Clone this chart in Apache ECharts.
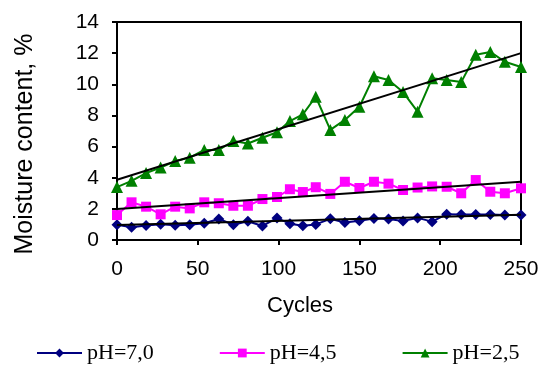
<!DOCTYPE html>
<html>
<head>
<meta charset="utf-8">
<script src="https://cdn.jsdelivr.net/npm/echarts@6/dist/echarts.min.js"></script>
<style>
html,body{margin:0;padding:0;background:#fff;}
#chart{width:560px;height:365px;}
</style>
</head>
<body>
<div id="chart"></div>
<script>
var cycles = [0, 9, 18, 27, 36, 45, 54, 63, 72, 81, 90, 99, 107, 115, 123, 132, 141, 150, 159, 168, 177, 186, 195, 204, 213, 222, 231, 240, 250];
var ph70 = [0.98, 0.82, 0.93, 1.01, 0.95, 0.98, 1.08, 1.35, 0.98, 1.2, 0.9, 1.41, 1.05, 0.92, 1.0, 1.36, 1.12, 1.23, 1.38, 1.35, 1.22, 1.42, 1.18, 1.66, 1.64, 1.64, 1.64, 1.6, 1.6];
var ph45 = [1.6, 2.42, 2.14, 1.65, 2.14, 2.03, 2.42, 2.36, 2.2, 2.2, 2.63, 2.76, 3.26, 3.08, 3.39, 2.96, 3.74, 3.34, 3.74, 3.62, 3.21, 3.37, 3.44, 3.42, 3.0, 3.85, 3.1, 3.0, 3.32];
var ph25 = [3.4, 3.8, 4.3, 4.65, 5.07, 5.29, 5.78, 5.78, 6.36, 6.2, 6.57, 6.92, 7.64, 8.07, 9.2, 7.07, 7.71, 8.56, 10.52, 10.28, 9.5, 8.24, 10.38, 10.28, 10.14, 11.9, 12.08, 11.45, 11.11];
var trendX = [0, 250];
var trend70 = [0.96, 1.62];
var trend45 = [1.99, 3.74];
var trend25 = [3.87, 12.0];
var seriesNames = ['pH=7,0', 'pH=4,5', 'pH=2,5'];
var xTicks = [0, 50, 100, 150, 200, 250];
var yTicks = [0, 2, 4, 6, 8, 10, 12, 14];

function pairs(xs, ys) { return xs.map(function (x, i) { return [x, ys[i]]; }); }

var chart = echarts.init(document.getElementById('chart'), null, {renderer: 'canvas'});
var axisFont = {fontFamily: 'Liberation Sans', fontSize: 21, color: '#000'};
chart.setOption({
  animation: false,
  backgroundColor: '#fff',
  grid: {left: 117, right: 39, top: 22, bottom: 125, show: true, borderColor: '#000', borderWidth: 2, backgroundColor: 'transparent'},
  xAxis: {
    type: 'value', min: xTicks[0], max: xTicks[xTicks.length - 1], interval: 50,
    name: 'Cycles', nameLocation: 'middle', nameGap: 55,
    nameTextStyle: {fontFamily: 'Liberation Sans', fontSize: 22, color: '#000', padding: [0, 38, 0, 0]},
    axisLine: {show: true, onZero: false, lineStyle: {color: '#000', width: 2}},
    axisTick: {show: true, inside: false, length: 5, lineStyle: {color: '#000', width: 2}},
    axisLabel: Object.assign({margin: 19}, axisFont),
    splitLine: {show: false}
  },
  yAxis: {
    type: 'value', min: yTicks[0], max: yTicks[yTicks.length - 1], interval: 2,
    name: 'Moisture content, %', nameLocation: 'middle', nameGap: 79, nameRotate: 90,
    nameTextStyle: {fontFamily: 'Liberation Sans', fontSize: 25, color: '#000', padding: [0, 26, 0, 0]},
    axisLine: {show: true, onZero: false, lineStyle: {color: '#000', width: 2}},
    axisTick: {show: true, inside: false, length: 5, lineStyle: {color: '#000', width: 2}},
    axisLabel: Object.assign({margin: 18}, axisFont),
    splitLine: {show: false}
  },
  legend: {
    left: 31, top: 337, itemWidth: 45, itemHeight: 11, itemGap: 65,
    data: seriesNames,
    textStyle: {fontFamily: 'Liberation Serif', fontSize: 22, color: '#000'}
  },
  series: [
    {name: seriesNames[0], type: 'line', data: pairs(cycles, ph70), symbol: 'diamond', symbolSize: 11,
     itemStyle: {color: '#000080'}, lineStyle: {color: '#000080', width: 2}, z: 2},
    {name: seriesNames[1], type: 'line', data: pairs(cycles, ph45), symbol: 'rect', symbolSize: 10,
     itemStyle: {color: '#FF00FF'}, lineStyle: {color: '#FF00FF', width: 2}, z: 2},
    {name: seriesNames[2], type: 'line', data: pairs(cycles, ph25), symbol: 'triangle', symbolSize: 12,
     itemStyle: {color: '#008000'}, lineStyle: {color: '#008000', width: 2}, z: 2},
    {name: 'trend70', type: 'line', data: pairs(trendX, trend70), symbol: 'none', lineStyle: {color: '#000', width: 2}, z: 3, silent: true},
    {name: 'trend45', type: 'line', data: pairs(trendX, trend45), symbol: 'none', lineStyle: {color: '#000', width: 2}, z: 3, silent: true},
    {name: 'trend25', type: 'line', data: pairs(trendX, trend25), symbol: 'none', lineStyle: {color: '#000', width: 2}, z: 3, silent: true}
  ]
});
</script>
</body>
</html>
